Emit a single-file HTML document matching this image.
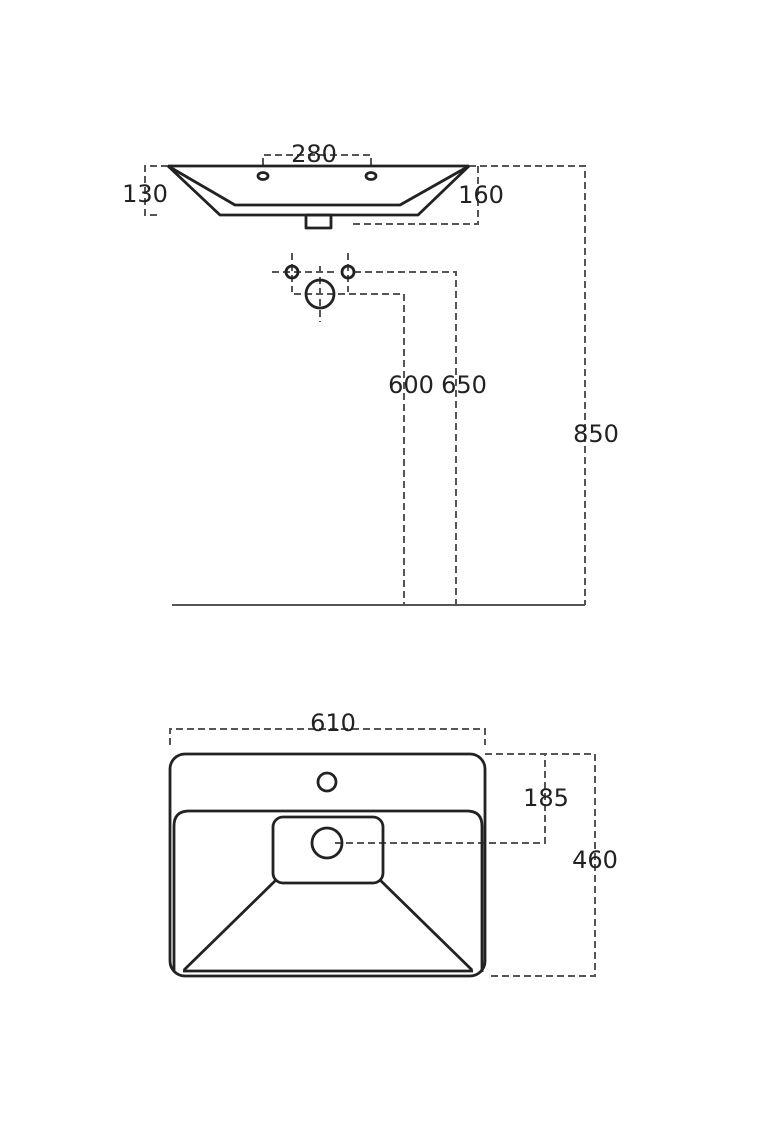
<!DOCTYPE html>
<html><head><style>body{margin:0;background:#fff}svg{display:block}text{font-family:"DejaVu Sans","Liberation Sans",sans-serif;font-size:24px;fill:#222;text-anchor:middle}</style></head>
<body>
<svg width="760" height="1140" viewBox="0 0 760 1140" xmlns="http://www.w3.org/2000/svg">
<g fill="none" stroke="#555" stroke-width="2" stroke-dasharray="7,4">
<polyline points="263,165 263,155 371,155 371,165"/>
<polyline points="168,166 145,166 145,215 160,215"/>
<polyline points="469,166 585,166 585,605"/>
<polyline points="478,166 478,224 352,224"/>
<line x1="292" y1="253" x2="292" y2="292"/>
<line x1="348" y1="253" x2="348" y2="292"/>
<line x1="272" y1="272" x2="338" y2="272"/>
<polyline points="354,272 456,272 456,605"/>
<polyline points="294,294 404,294 404,605"/>
<line x1="320" y1="266" x2="320" y2="322"/>
<polyline points="170,745 170,729 485,729 485,745"/>
<polyline points="485,754 545,754 545,843 333,843"/>
<polyline points="485,754 595,754 595,976 490,976"/>
</g>
<line x1="172" y1="605" x2="585" y2="605" stroke="#555" stroke-width="2"/>
<g fill="none" stroke="#222" stroke-width="2.8" stroke-linejoin="round">
<polyline points="168,166 469,166"/>
<polyline points="168,166 220,215 418,215 469,166"/>
<polyline points="168,166 235,205 400,205 469,166"/>
<rect x="306" y="215" width="25" height="13"/>
<ellipse cx="263" cy="176" rx="5" ry="3.5"/>
<ellipse cx="371" cy="176" rx="5" ry="3.5"/>
<circle cx="292" cy="272" r="6"/>
<circle cx="348" cy="272" r="6"/>
<circle cx="320" cy="294" r="14"/>
<rect x="170" y="754" width="315" height="222" rx="15"/>
<path d="M174,972 L174,826 Q174,811 189,811 L467,811 Q482,811 482,826 L482,972"/>
<line x1="183" y1="971" x2="473" y2="971"/>
<circle cx="327" cy="782" r="9"/>
<rect x="273" y="817" width="110" height="66" rx="10"/>
<circle cx="327" cy="843" r="15"/>
<line x1="276" y1="880" x2="184" y2="970"/>
<line x1="380" y1="880" x2="472" y2="970"/>
</g>
<text x="314" y="162">280</text>
<text x="145" y="202">130</text>
<text x="481" y="203">160</text>
<text x="411" y="393">600</text>
<text x="464" y="393">650</text>
<text x="596" y="442">850</text>
<text x="333" y="731">610</text>
<text x="546" y="806">185</text>
<text x="595" y="868">460</text>
</svg>
</body></html>
